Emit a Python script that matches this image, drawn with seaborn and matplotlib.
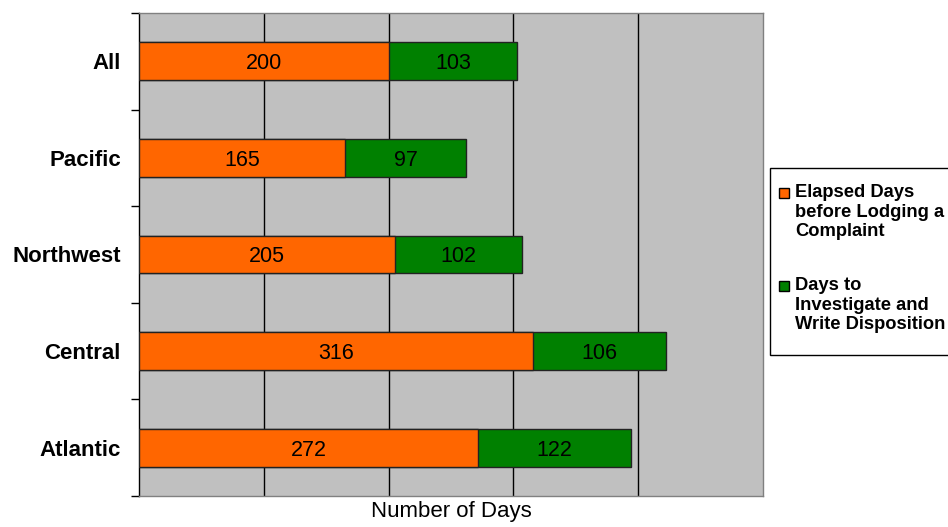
import matplotlib
matplotlib.use("Agg")
import matplotlib.pyplot as plt
from matplotlib.patches import Rectangle
import seaborn as sns
import pandas as pd

regions = ["All", "Pacific", "Northwest", "Central", "Atlantic"]
elapsed_days = [200, 165, 205, 316, 272]
investigate_days = [103, 97, 102, 106, 122]
series_names = ["Elapsed Days\nbefore Lodging a\nComplaint",
                "Days to\nInvestigate and\nWrite Disposition"]

orange = "#FF6600"
green = "#008000"

sns.set_theme(style="white")
plt.rcParams["font.family"] = ["Liberation Sans", "DejaVu Sans"]
plt.rcParams["text.color"] = "black"
plt.rcParams["axes.labelcolor"] = "black"
plt.rcParams["ytick.labelcolor"] = "black"

df = pd.DataFrame({
    "region": regions,
    "elapsed": elapsed_days,
    "investigate": investigate_days,
})
df["total"] = df["elapsed"] + df["investigate"]

W, H = 948, 527
fig = plt.figure(figsize=(W / 100, H / 100), dpi=100)
ax = fig.add_axes([139 / W, 1 - 496 / H, (763 - 139) / W, (496 - 13) / H])
ax.set_facecolor("#C0C0C0")

# full bar (green) first, elapsed segment (orange) drawn over it
sns.barplot(data=df, y="region", x="total", order=regions, color=green,
            orient="h", width=0.39, edgecolor="#222222", linewidth=1.0,
            saturation=1, ax=ax, zorder=3)
sns.barplot(data=df, y="region", x="elapsed", order=regions, color=orange,
            orient="h", width=0.39, edgecolor="#222222", linewidth=1.0,
            saturation=1, ax=ax, zorder=4)

for i, (e, d) in enumerate(zip(elapsed_days, investigate_days)):
    ax.text(e / 2, i, f"{e}", ha="center", va="center_baseline",
            fontsize=15.5, color="black", zorder=5)
    ax.text(e + d / 2, i, f"{d}", ha="center", va="center_baseline",
            fontsize=15.5, color="black", zorder=5)

ax.set_xlim(0, 500)
ax.set_ylim(4.5, -0.5)
ax.set_xticks([100, 200, 300, 400])
ax.set_xticklabels([])
ax.tick_params(axis="x", length=0)
ax.xaxis.grid(True, color="black", linewidth=1.0)
ax.set_axisbelow(True)
for line in ax.get_xgridlines():
    line.set_zorder(1)

ax.set_yticks(range(len(regions)))
ax.set_yticklabels(regions, fontsize=16, fontweight="bold", color="black")
ax.set_yticks([i - 0.5 for i in range(len(regions) + 1)], minor=True)
ax.tick_params(axis="y", which="major", length=0, pad=13)
ax.tick_params(axis="y", which="minor", length=6, width=1, color="black",
               direction="out", left=True)

ax.set_ylabel("")
ax.set_xlabel("Number of Days", fontsize=16, color="black")
ax.xaxis.set_label_coords(0.5, -0.011)

for side in ["top", "right", "bottom"]:
    ax.spines[side].set_color("#808080")
    ax.spines[side].set_linewidth(1.0)
ax.spines["left"].set_color("black")
ax.spines["left"].set_linewidth(1.0)

# legend panel on the right, running past the figure edge
def fx(px):
    return px / W

def fy(py):
    return 1 - py / H

frame = Rectangle((fx(770), fy(355)), fx(200), (355 - 168) / H,
                  transform=fig.transFigure, facecolor="white",
                  edgecolor="black", linewidth=1.0, clip_on=False)
fig.add_artist(frame)
for name, color, top in zip(series_names, [orange, green], [184, 277]):
    key = Rectangle((fx(779), fy(top + 14)), 10 / W, 10 / H,
                    transform=fig.transFigure, facecolor=color,
                    edgecolor="black", linewidth=1.0)
    fig.add_artist(key)
    fig.text(fx(795), fy(top), name, ha="left", va="top", fontsize=13.2,
             fontweight="bold", linespacing=1.2, color="black")

fig.savefig("out.png", dpi=100, facecolor="white")
